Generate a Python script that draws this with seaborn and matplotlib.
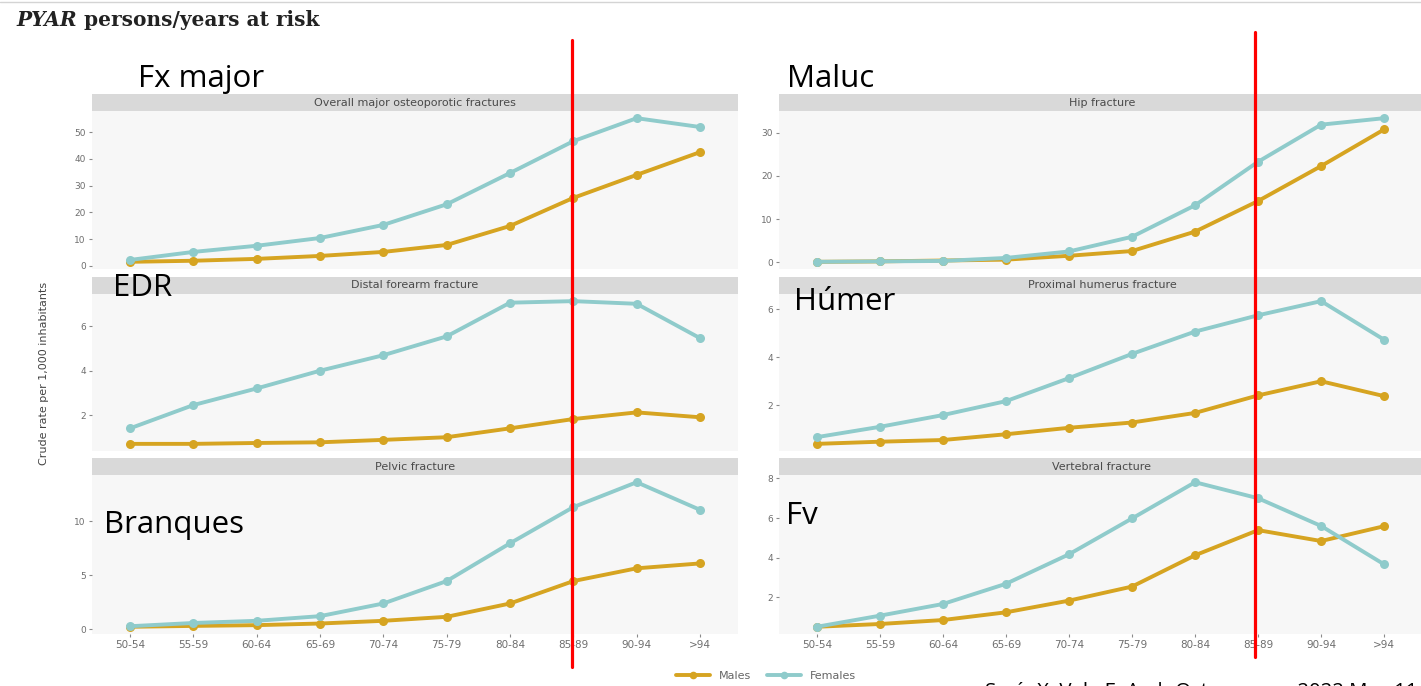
import numpy as np
import pandas as pd
import matplotlib
matplotlib.use("Agg")
import matplotlib.pyplot as plt
import seaborn as sns
from matplotlib.lines import Line2D

# ---- data: crude fracture rates per 1,000 inhabitants by age group ----
age_groups = ["50-54", "55-59", "60-64", "65-69", "70-74",
              "75-79", "80-84", "85-89", "90-94", ">94"]

major_males = [1.5, 1.9, 2.6, 3.7, 5.2, 7.8, 14.9, 25.4, 34.0, 42.5]
major_females = [2.2, 5.2, 7.5, 10.4, 15.3, 23.0, 34.7, 46.6, 55.2, 51.9]
hip_males = [0.1, 0.2, 0.4, 0.6, 1.5, 2.6, 7.1, 14.2, 22.3, 30.8]
hip_females = [0.1, 0.2, 0.3, 1.0, 2.5, 5.9, 13.2, 23.3, 31.9, 33.4]
forearm_males = [0.70, 0.70, 0.74, 0.77, 0.88, 1.00, 1.40, 1.82, 2.12, 1.90]
forearm_females = [1.40, 2.45, 3.20, 4.00, 4.70, 5.55, 7.07, 7.14, 7.02, 5.47]
humerus_males = [0.39, 0.48, 0.55, 0.79, 1.06, 1.28, 1.68, 2.41, 3.00, 2.38]
humerus_females = [0.67, 1.10, 1.59, 2.17, 3.13, 4.14, 5.07, 5.75, 6.34, 4.73]
pelvic_males = [0.25, 0.33, 0.40, 0.55, 0.80, 1.17, 2.40, 4.47, 5.65, 6.10]
pelvic_females = [0.30, 0.60, 0.80, 1.23, 2.40, 4.47, 7.96, 11.30, 13.60, 11.05]
vertebral_males = [0.51, 0.65, 0.85, 1.24, 1.83, 2.54, 4.12, 5.39, 4.84, 5.59]
vertebral_females = [0.51, 1.07, 1.66, 2.68, 4.17, 5.98, 7.81, 7.00, 5.60, 3.66]

panel_titles = ["Overall major osteoporotic fractures", "Hip fracture",
                "Distal forearm fracture", "Proximal humerus fracture",
                "Pelvic fracture", "Vertebral fracture"]
panel_tags = ["Fx major", "Maluc", "EDR", "Húmer", "Branques", "Fv"]
panel_yticks = [[0, 10, 20, 30, 40, 50], [0, 10, 20, 30],
                [2, 4, 6], [2, 4, 6],
                [0, 5, 10], [2, 4, 6, 8]]
series = [(major_males, major_females), (hip_males, hip_females),
          (forearm_males, forearm_females), (humerus_males, humerus_females),
          (pelvic_males, pelvic_females), (vertebral_males, vertebral_females)]

sex_levels = ["Males", "Females"]
palette = {"Males": "#D6A421", "Females": "#8FCBCB"}

# ---- figure geometry (pixels) ----
W, H = 1421, 686
sns.set_theme(style="white")
plt.rcParams["font.family"] = ["DejaVu Sans"]

fig = plt.figure(figsize=(W / 100, H / 100), dpi=100)
fig.patch.set_facecolor("white")


def fx(px):
    return px / W


def fy(py):
    return 1 - py / H


col_x = [(92, 738), (779, 1422)]
row_y = [(111, 269), (294, 451), (475, 634)]
strip_h = 17
tag_pos = [(138, 87), (787, 87), (113, 296), (794, 310), (104, 533), (786, 524)]

for i, (title, tag, yt, (m, f)) in enumerate(zip(panel_titles, panel_tags,
                                                 panel_yticks, series)):
    r, c = divmod(i, 2)
    x0, x1 = col_x[c]
    y0, y1 = row_y[r]
    ax = fig.add_axes([fx(x0), fy(y1), (x1 - x0) / W, (y1 - y0) / H])
    ax.set_facecolor("#F7F7F7")

    df = pd.DataFrame({
        "age": age_groups * 2,
        "rate": list(m) + list(f),
        "sex": ["Males"] * len(m) + ["Females"] * len(f),
    })
    sns.lineplot(data=df, x="age", y="rate", hue="sex", hue_order=sex_levels,
                 palette=palette, marker="o", markersize=6.5,
                 markeredgewidth=0, linewidth=2.8, sort=False,
                 legend=False, ax=ax)

    ax.set_xlim(-0.6, len(age_groups) - 0.4)
    ax.set_yticks(yt)
    ax.set_xlabel("")
    ax.set_ylabel("")
    for s in ax.spines.values():
        s.set_visible(False)
    ax.grid(False)
    ax.tick_params(axis="y", left=True, length=2.5, width=0.8, color="#8a8a8a",
                   labelsize=6.5, labelcolor="#6e6e6e", pad=2)
    if r == 2:
        ax.tick_params(axis="x", bottom=True, length=2.5, width=0.8,
                       color="#8a8a8a", labelsize=7.5, labelcolor="#6e6e6e",
                       pad=2)
    else:
        ax.tick_params(axis="x", bottom=False, labelbottom=False)

    # facet strip
    sax = fig.add_axes([fx(x0), fy(y0), (x1 - x0) / W, strip_h / H])
    sax.set_facecolor("#D9D9D9")
    sax.set_xticks([])
    sax.set_yticks([])
    for s in sax.spines.values():
        s.set_visible(False)
    sax.text(0.5 if c == 0 else (738 - 92) / 2 / (x1 - x0), 0.5, title,
             ha="center", va="center", fontsize=8, color="#4a4a4a",
             transform=sax.transAxes)

    # short label for each panel
    tx, ty = tag_pos[i]
    fig.text(fx(tx), fy(ty), tag, fontsize=22.5, family="Open Sans",
             color="black", ha="left", va="baseline", zorder=10)

# shared y-axis title
fig.text(fx(44), fy(373), "Crude rate per 1,000 inhabitants", rotation=90,
         ha="center", va="center", fontsize=8, color="#444444")

# legend
handles = [Line2D([0], [0], color=palette[s], lw=2.8, marker="o",
                  markersize=5.5, markeredgewidth=0) for s in sex_levels]
fig.legend(handles, sex_levels, loc="center", bbox_to_anchor=(fx(766), fy(676)),
           ncol=2, frameon=False, fontsize=8, handlelength=3.0,
           columnspacing=1.5, handletextpad=0.8, labelcolor="#666666")

# heading line
t1 = fig.text(fx(16), fy(26), "PYAR", fontsize=14.5, family="DejaVu Serif",
              fontweight="bold", style="italic", color="#222222",
              va="baseline")
fig.canvas.draw()
bb = t1.get_window_extent(fig.canvas.get_renderer())
fig.text(bb.x1 / W + fx(7), fy(26), "persons/years at risk", fontsize=14.5,
         family="DejaVu Serif", fontweight="bold", color="#222222",
         va="baseline")

# thin rule at the very top
fig.add_artist(Line2D([0, 1], [fy(2), fy(2)], color="#d4d4d4", lw=1))

# red reference lines at the 85-89 age group
fig.add_artist(Line2D([fx(572), fx(572)], [fy(40), fy(667)],
                      color="#FF0000", lw=2.3, zorder=20))
fig.add_artist(Line2D([fx(1255), fx(1255)], [fy(32), fy(657)],
                      color="#FF0000", lw=2.3, zorder=20))

# source reference along the bottom edge
fig.text(fx(985), fy(697), "Surís X, Vela E, Arch Osteoporos. 2022 May 11",
         fontsize=14.7, family="Open Sans", color="black", va="baseline")

fig.savefig("out.png", dpi=100, facecolor="white")
